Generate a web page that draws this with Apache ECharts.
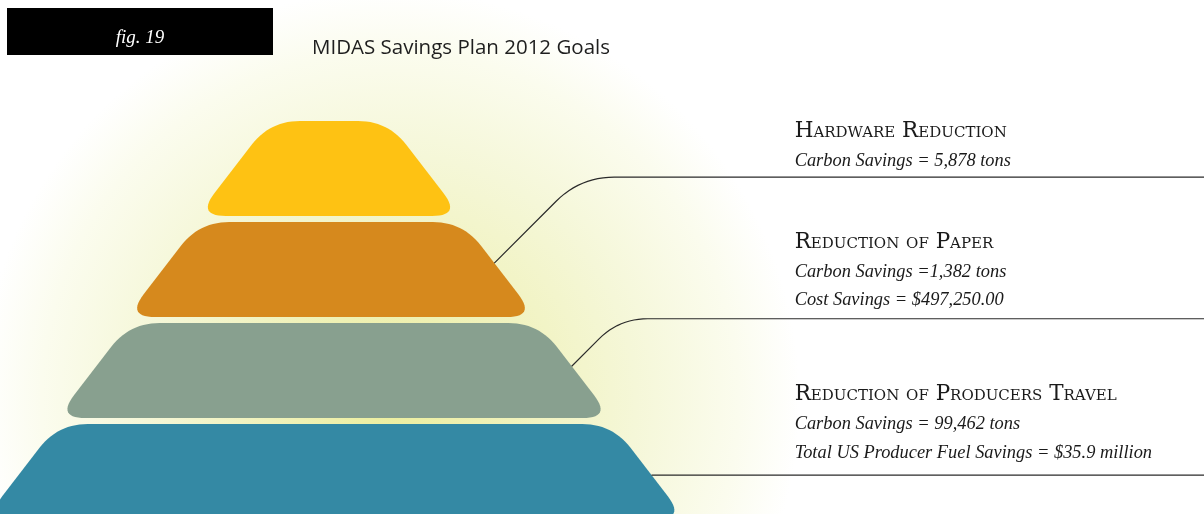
<!DOCTYPE html>
<html>
<head>
<meta charset="utf-8">
<script src="https://cdn.jsdelivr.net/npm/echarts@6/dist/echarts.min.js"></script>
<style>
html,body{margin:0;padding:0;background:#ffffff;}
#chart{width:1204px;height:514px;}
</style>
</head>
<body>
<div id="chart"></div>
<script>
// ---------------- data ----------------
const chartTitle = 'MIDAS Savings Plan 2012 Goals';
const figLabel = 'fig. 19';
const tiers = ['Level 1', 'Level 2', 'Level 3', 'Level 4'];
const goalTitles = ['Hardware Reduction', 'Reduction of Paper', 'Reduction of Producers Travel'];
const goalDetails = [
  ['Carbon Savings = 5,878 tons'],
  ['Carbon Savings =1,382 tons', 'Cost Savings = $497,250.00'],
  ['Carbon Savings = 99,462 tons', 'Total US Producer Fuel Savings = $35.9 million']
];

// ---------------- style / layout ----------------
const TIER_COLORS = ['#FEC213', '#D6891D', '#88A08F', '#3489A4'];
const HALF0 = 0.584;           // top half-width of first tier (band units)
const HALF_STEP = 0.72;        // growth of top half-width per tier (band units)
const SIDE = 0.77;             // side slope within a tier (dx per dy)
const CENTER_SHIFT = [-0.03, -0.01, 0.02, 0.03]; // slight drift of tier centres (band units)
const TIER_FILL = 0.94;        // tier height as share of its band
const TOP_R = 30, BOT_R = 29;  // corner rounding
const ANCHOR_DY = [-0.064, -0.043, 0.035]; // leader anchor on tier side (band units)
const RISE = [0.85, 0.47, 0];  // leader rise (band units)
const TEXT_GAP = [10, 12, 16]; // underline to last text baseline
const LINE_STEP = 28.5;
const SERIF = '"Liberation Serif", "DejaVu Serif", serif';
const SC_SERIF = '"DejaVu Serif", "Liberation Serif", serif';

function quadPts(p0, c, p1, n) {
  const out = [];
  for (let k = 0; k <= n; k++) {
    const t = k / n, u = 1 - t;
    out.push([u*u*p0[0] + 2*u*t*c[0] + t*t*p1[0], u*u*p0[1] + 2*u*t*c[1] + t*t*p1[1]]);
  }
  return out;
}
function toward(p, q, d) {
  const dx = q[0]-p[0], dy = q[1]-p[1], L = Math.hypot(dx, dy);
  return [p[0] + dx/L*d, p[1] + dy/L*d];
}
function roundedPolygon(pts, radii) {
  const out = [], n = pts.length;
  for (let i = 0; i < n; i++) {
    const p = pts[i], prev = pts[(i-1+n)%n], next = pts[(i+1)%n];
    out.push(...quadPts(toward(p, prev, radii[i]), p, toward(p, next, radii[i]), 14));
  }
  return out;
}

function renderItem(params, api) {
  const idx = api.value(1);
  const c = api.coord([0, idx]);
  const bh = api.size([0, 1])[1];
  const cx = c[0] + CENTER_SHIFT[idx] * bh;
  const top = c[1] - TIER_FILL/2 * bh, bot = c[1] + TIER_FILL/2 * bh;
  const halfTop = (HALF0 + HALF_STEP * idx) * bh;
  const half = y => halfTop + SIDE * (y - top);
  const pts = [[cx - half(top), top], [cx + half(top), top], [cx + half(bot), bot], [cx - half(bot), bot]];
  const children = [{
    type: 'polygon',
    shape: { points: roundedPolygon(pts, [TOP_R, TOP_R, BOT_R, BOT_R]) },
    style: { fill: TIER_COLORS[idx] }
  }];
  const a = idx - 1;
  if (a >= 0 && a < goalTitles.length) {
    const cs = params.coordSys;
    const right = cs.x + cs.width;
    const ay = c[1] + ANCHOR_DY[a] * bh;
    const ax = cx + half(ay);
    const rise = RISE[a] * bh;
    const ly = ay - rise;
    let line;
    if (rise > 0) {
      const corner = [ax + rise, ly];
      const r = Math.min(34, rise * 0.6);
      line = [[ax, ay], ...quadPts(toward(corner, [ax, ay], r), corner, toward(corner, [right, ly], r), 12), [right, ly]];
    } else {
      line = [[ax, ay], [right, ly]];
    }
    children.push({
      type: 'polyline',
      shape: { points: line },
      style: { stroke: '#2a2a2a', lineWidth: 1.2, fill: null }
    });
    const tx = cs.x + 0.66 * cs.width;
    const det = goalDetails[a];
    let base = ly - TEXT_GAP[a];
    for (let k = det.length - 1; k >= 0; k--) {
      children.push({
        type: 'text',
        style: { text: det[k], x: tx, y: base - 0.34*18.4, font: 'italic normal 18.4px ' + SERIF, fill: '#1a1a1a', verticalAlign: 'middle', align: 'left' }
      });
      base -= LINE_STEP;
    }
    children.push({
      type: 'text',
      style: { text: goalTitles[a], x: tx, y: base - 0.36*21.5, font: 'small-caps normal 21.5px ' + SC_SERIF, fill: '#1a1a1a', verticalAlign: 'middle', align: 'left' }
    });
  }
  return { type: 'group', children };
}

const chart = echarts.init(document.getElementById('chart'), null, { renderer: 'canvas' });
chart.setOption({
  animation: false,
  backgroundColor: '#ffffff',
  graphic: [
    {
      type: 'rect', z: -100, silent: true,
      shape: { x: 0, y: 0, width: 1204, height: 514 },
      style: { fill: new echarts.graphic.RadialGradient(390, 400, 410, [
        { offset: 0, color: '#ecee9e' },
        { offset: 0.3, color: '#f0f2bb' },
        { offset: 0.6, color: '#f5f7d8' },
        { offset: 0.85, color: '#fbfcee' },
        { offset: 1, color: '#ffffff' }
      ], true) }
    },
    {
      type: 'rect', z: 10,
      shape: { x: 7, y: 8, width: 266, height: 47 },
      style: { fill: '#000000' }
    },
    {
      type: 'text', z: 11,
      style: { text: figLabel, x: 140, y: 44 - 0.34*19, font: 'italic normal 19px ' + SERIF, fill: '#ffffff', align: 'center', verticalAlign: 'middle' }
    },
    {
      type: 'text', z: 11,
      style: { text: chartTitle, x: 312, y: 56 - 0.39*20.5, font: 'normal normal 20.5px "Open Sans", sans-serif', fill: '#1e1e1e', align: 'left', verticalAlign: 'middle' }
    }
  ],
  grid: { left: 0, right: 0, top: 118, bottom: 0, containLabel: false },
  xAxis: { type: 'value', min: -332, max: 872, show: false },
  // tier i is centred on value i; the last band runs past the canvas bottom
  yAxis: { type: 'value', min: -0.5, max: 3.42, inverse: true, show: false },
  series: [{
    type: 'custom',
    renderItem: renderItem,
    data: tiers.map((t, i) => [0, i]),
    encode: { x: 0, y: 1 },
    clip: false,
    z: 2
  }]
});
</script>
</body>
</html>
